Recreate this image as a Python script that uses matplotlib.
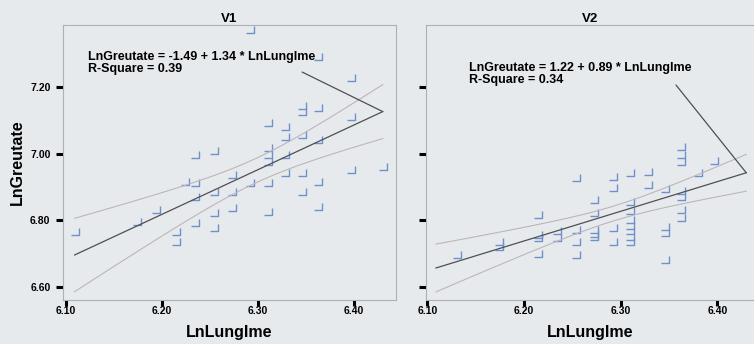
import numpy as np
import matplotlib
matplotlib.use('Agg')
import matplotlib.pyplot as plt
from matplotlib.path import Path

plt.rcParams['font.family'] = ['Liberation Sans', 'DejaVu Sans']
plt.rcParams['font.weight'] = 'bold'

# V1 panel: ln(length) vs ln(weight)
v1_x = [6.292, 6.363, 6.397, 6.346, 6.346, 6.363, 6.397, 6.310, 6.328, 6.328,
        6.346, 6.363, 6.310, 6.310, 6.310, 6.328, 6.234, 6.254, 6.397, 6.430,
        6.273, 6.328, 6.346, 6.363, 6.292, 6.310, 6.224, 6.234, 6.234, 6.254,
        6.273, 6.346, 6.363, 6.254, 6.273, 6.310, 6.194, 6.174, 6.234, 6.254,
        6.215, 6.215, 6.109]
v1_y = [7.371, 7.290, 7.227, 7.143, 7.125, 7.137, 7.110, 7.092, 7.080, 7.050,
        7.056, 7.041, 7.017, 6.996, 6.975, 6.996, 6.996, 7.008, 6.951, 6.960,
        6.936, 6.942, 6.942, 6.915, 6.912, 6.912, 6.915, 6.912, 6.870, 6.885,
        6.885, 6.885, 6.840, 6.822, 6.837, 6.825, 6.831, 6.795, 6.792, 6.777,
        6.765, 6.735, 6.765]

# V2 panel
v2_x = [6.131, 6.174, 6.174, 6.215, 6.215, 6.215, 6.215, 6.234, 6.234,
        6.254, 6.254, 6.254, 6.254, 6.273, 6.273, 6.273, 6.273, 6.273,
        6.292, 6.292, 6.292, 6.292, 6.310, 6.310, 6.310, 6.310, 6.310,
        6.310, 6.310, 6.310, 6.328, 6.328, 6.346, 6.346, 6.346, 6.346,
        6.363, 6.363, 6.363, 6.363, 6.363, 6.363, 6.363, 6.380, 6.397]
v2_y = [6.696, 6.735, 6.720, 6.816, 6.756, 6.747, 6.699, 6.768, 6.747,
        6.927, 6.771, 6.735, 6.696, 6.860, 6.822, 6.771, 6.759, 6.750,
        6.930, 6.897, 6.777, 6.735, 6.942, 6.855, 6.828, 6.800, 6.783,
        6.768, 6.750, 6.735, 6.945, 6.906, 6.894, 6.780, 6.762, 6.681,
        7.020, 6.996, 6.975, 6.888, 6.870, 6.831, 6.807, 6.942, 6.978]

v1_coef = (-1.49, 1.34)
v2_coef = (1.22, 0.89)
v1_r2 = 0.39
v2_r2 = 0.34
fit_range = (6.109, 6.430)  # both fits are drawn over the full length range

x_ticks = [6.10, 6.20, 6.30, 6.40]
y_ticks = [6.60, 6.80, 7.00, 7.20]

bg = '#e7eaed'
marker = Path([(-0.5, -0.4), (0.5, -0.4), (0.5, 0.45)],
              [Path.MOVETO, Path.LINETO, Path.LINETO])

fig = plt.figure(figsize=(7.54, 3.44), dpi=100, facecolor=bg)
ax1 = fig.add_axes([63 / 754, 44 / 344, 333 / 754, 275 / 344])
ax2 = fig.add_axes([426 / 754, 44 / 344, 328 / 754, 275 / 344])


def panel(ax, x, y, coef, r2, title, xlim, txt_pos, lead_pos):
    x = np.array(x)
    y = np.array(y)
    a, b = coef
    ax.set_facecolor(bg)
    ax.plot(x, y, ls='none', marker=marker, ms=6, mfc='none',
            mec='#6f90cc', mew=1.0)

    # fit line and 95% mean confidence band
    xs = np.linspace(fit_range[0], fit_range[1], 60)
    yhat = a + b * xs
    n = len(x)
    s = np.sqrt(np.sum((y - (a + b * x)) ** 2) / (n - 2))
    sxx = np.sum((x - x.mean()) ** 2)
    half = 2.02 * s * np.sqrt(1 / n + (xs - x.mean()) ** 2 / sxx)
    ax.plot(xs, yhat + half, color='#bdb5b9', lw=0.8)
    ax.plot(xs, yhat - half, color='#bdb5b9', lw=0.8)
    ax.plot(xs, yhat, color='#4f4f4f', lw=0.9)

    ax.text(txt_pos[0], txt_pos[1],
            'LnGreutate = %.2f + %.2f * LnLungIme' % (a, b),
            transform=ax.transAxes, fontsize=9, fontweight='bold', va='center')
    ax.text(txt_pos[0], txt_pos[1] - 0.044, 'R-Square = %.2f' % r2,
            transform=ax.transAxes, fontsize=9, fontweight='bold', va='center')
    ax.annotate('', xy=(xs[-1], yhat[-1]), xycoords='data',
                xytext=lead_pos, textcoords='axes fraction',
                arrowprops=dict(arrowstyle='-', color='#4f4f4f', lw=0.9,
                                shrinkA=0, shrinkB=0))

    ax.set_xlim(*xlim)
    ax.set_ylim(6.561, 7.386)
    ax.set_xticks(x_ticks)
    ax.set_xticklabels(['%.2f' % t for t in x_ticks], fontsize=7.5, fontweight='bold')
    ax.set_yticks(y_ticks)
    ax.tick_params(axis='x', length=4, width=2.2, pad=0.5, color='black')
    ax.tick_params(axis='y', length=5, width=2.2, pad=4, color='black')
    for sp in ax.spines.values():
        sp.set_color('#aeb0b3')
        sp.set_linewidth(0.8)
    ax.set_title(title, fontsize=9.5, fontweight='bold', pad=2)
    ax.set_xlabel('LnLungIme', fontsize=11.5, fontweight='bold', labelpad=6)


panel(ax1, v1_x, v1_y, v1_coef, v1_r2, 'V1', (6.0969, 6.4438),
      (0.075, 0.884), (0.718, 0.829))
panel(ax2, v2_x, v2_y, v2_coef, v2_r2, 'V2', (6.0987, 6.438),
      (0.131, 0.844), (0.762, 0.782))

ax1.set_yticklabels(['%.2f' % t for t in y_ticks], fontsize=7.5, fontweight='bold')
ax1.set_ylabel('LnGreutate', fontsize=11.5, fontweight='bold', labelpad=4)
ax2.set_yticklabels([])
ax2.spines['right'].set_visible(False)

fig.savefig('out.png', dpi=100, facecolor=bg)
